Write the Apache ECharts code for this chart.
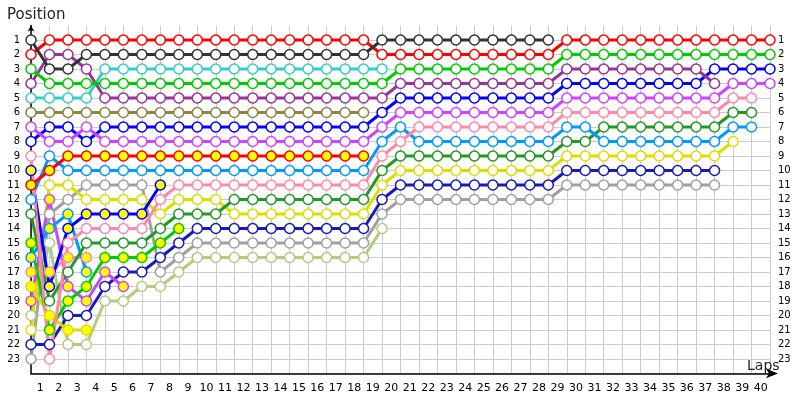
<!DOCTYPE html>
<html><head><meta charset="utf-8">
<script src="https://cdn.jsdelivr.net/npm/echarts@6/dist/echarts.min.js"></script>
<style>html,body{margin:0;padding:0;background:#fff}#c{width:800px;height:400px}</style>
</head><body><div id="c"></div>
<script>
// Lap labels (between grid lines) and position ticks
const lapLabels = ['1','2','3','4','5','6','7','8','9','10','11','12','13','14','15','16','17','18','19','20','21','22','23','24','25','26','27','28','29','30','31','32','33','34','35','36','37','38','39','40'];
const positionTicks = [1,2,3,4,5,6,7,8,9,10,11,12,13,14,15,16,17,18,19,20,21,22,23];

// Position per lap (index 0 = grid), series end when the car stops
const dark      = [1,3,3,2,2,2,2,2,2,2,2,2,2,2,2,2,2,2,2,1,1,1,1,1,1,1,1,1,1];
const red       = [2,1,1,1,1,1,1,1,1,1,1,1,1,1,1,1,1,1,1,2,2,2,2,2,2,2,2,2,2,1,1,1,1,1,1,1,1,1,1,1,1];
const green     = [3,4,4,4,4,4,4,4,4,4,4,4,4,4,4,4,4,4,4,4,3,3,3,3,3,3,3,3,3,2,2,2,2,2,2,2,2,2,2,2,2];
const purple    = [4,2,2,3,5,5,5,5,5,5,5,5,5,5,5,5,5,5,5,5,4,4,4,4,4,4,4,4,4,3,3,3,3,3,3,3,3,4];
const cyan      = [5,5,5,5,3,3,3,3,3,3,3,3,3,3,3,3,3,3,3,3];
const olive     = [6,6,6,6,6,6,6,6,6,6,6,6,6,6,6,6,6,6,6];
const violet    = [7,8,8,7,8,8,8,8,8,8,8,8,8,8,8,8,8,8,8,7,6,6,6,6,6,6,6,6,6,5,5,5,5,5,5,5,5,5,4,4,4];
const blue      = [8,7,7,8,7,7,7,7,7,7,7,7,7,7,7,7,7,7,7,6,5,5,5,5,5,5,5,5,5,4,4,4,4,4,4,4,4,3,3,3,3];
const pink      = [9,23,15,14,14,14,14,12,11,11,11,11,11,11,11,11,11,11,11,9,8,7,7,7,7,7,7,7,7,6,6,6,6,6,6,6,6,6,5,5];
const blueY     = [10,18,14,13,13,13,13,11];
const redY      = [11,10,9,9,9,9,9,9,9,9,9,9,9,9,9,9,9,9,9];
const lightblue = [12,9,10,10,10,10,10,10,10,10,10,10,10,10,10,10,10,10,10,8,7,8,8,8,8,8,8,8,8,7,7,8,8,8,8,8,8,8,7,7];
const fgreen    = [13,19,17,15,15,15,15,14,13,13,13,12,12,12,12,12,12,12,12,10,9,9,9,9,9,9,9,9,9,8,8,7,7,7,7,7,7,7,6,6];
const greenY    = [15,21,19,18,16,16,16,15,14];
const lightblueY= [16,14,13,17];
const pinkY     = [17,17,16,16];
const yellowY   = [18,20,21,21];
const violetY   = [19,12,18,19,17,18];
const lightgreen= [20,15,22,22,19,19,18,18,17,16,16,16,16,16,16,16,16,16,16,14];
const yellow    = [21,11,11,12,12,12,12,13,12,12,12,13,13,13,13,13,13,13,13,11,10,10,10,10,10,10,10,10,10,9,9,9,9,9,9,9,9,9,8];
const dkblue    = [22,22,20,20,18,17,17,16,15,14,14,14,14,14,14,14,14,14,14,12,11,11,11,11,11,11,11,11,11,10,10,10,10,10,10,10,10,10];
const gray      = [23,13,12,11,11,11,11,17,16,15,15,15,15,15,15,15,15,15,15,13,12,12,12,12,12,12,12,12,12,11,11,11,11,11,11,11,11,11];

const drivers = [
  {d: gray, c:'#a0a0a0', f:'#ffffff'},
  {d: lightgreen, c:'#b0cc80', f:'#ffffff'},
  {d: dkblue, c:'#1a1abb', f:'#ffffff'},
  {d: yellow, c:'#dddd00', f:'#ffffff'},
  {d: violetY, c:'#cc44ff', f:'#ffff00'},
  {d: yellowY, c:'#dddd00', f:'#ffff00'},
  {d: pinkY, c:'#ff88aa', f:'#ffff00'},
  {d: lightblueY, c:'#0099ff', f:'#ffff00'},
  {d: greenY, c:'#00cc00', f:'#ffff00'},
  {d: fgreen, c:'#229922', f:'#ffffff'},
  {d: lightblue, c:'#0099ff', f:'#ffffff'},
  {d: redY, c:'#ff0000', f:'#ffff00'},
  {d: blueY, c:'#0000ff', f:'#ffff00'},
  {d: pink, c:'#ff88aa', f:'#ffffff'},
  {d: blue, c:'#0000ff', f:'#ffffff'},
  {d: violet, c:'#cc44ff', f:'#ffffff'},
  {d: olive, c:'#888844', f:'#ffffff'},
  {d: cyan, c:'#33cccc', f:'#ffffff'},
  {d: purple, c:'#993399', f:'#ffffff'},
  {d: green, c:'#00cc00', f:'#ffffff'},
  {d: red, c:'#ff0000', f:'#ffffff'},
  {d: dark, c:'#333333', f:'#ffffff'}
];

const series = drivers.map(function (s) {
  return {
    type: 'line', xAxisIndex: 0, yAxisIndex: 0,
    data: s.d.map(function (v, i) { return [i, v]; }),
    symbol: 'circle', symbolSize: 10, showAllSymbol: true,
    lineStyle: {color: s.c, width: 3},
    itemStyle: {color: s.f, borderColor: s.c, borderWidth: 1.5},
    emphasis: {disabled: true}, silent: true, animation: false
  };
});

const chart = echarts.init(document.getElementById('c'), null, {renderer: 'canvas'});
const yLabel = function (v) { return positionTicks.indexOf(v) >= 0 ? String(v) : ''; };
chart.setOption({
  backgroundColor: '#ffffff',
  animation: false,
  title: [
    {text: 'Position', left: 2, top: 3, textStyle: {fontFamily: 'DejaVu Sans', fontSize: 15, fontWeight: 'normal', color: '#222'}},
    {text: 'Laps', left: 742, top: 354, textStyle: {fontFamily: 'DejaVu Sans', fontSize: 14, fontWeight: 'normal', color: '#222'}}
  ],
  grid: {left: 31, right: 30, top: 25.5, bottom: 26.5, containLabel: false},
  xAxis: [
    {type: 'value', min: 0, max: 40, interval: 1, position: 'bottom',
     axisLine: {show: true, onZero: false, symbol: ['none', 'arrow'], symbolSize: [7, 12], symbolOffset: [0, 8], lineStyle: {color: '#000', width: 1.5}},
     axisTick: {show: false}, axisLabel: {show: false},
     splitLine: {show: true, lineStyle: {color: '#cccccc', width: 1}}},
    {type: 'category', data: lapLabels, position: 'bottom', boundaryGap: true,
     axisLine: {show: false}, axisTick: {show: false}, splitLine: {show: false},
     axisLabel: {color: '#000', fontFamily: 'DejaVu Sans', fontSize: 11, margin: 9, interval: 0}}
  ],
  yAxis: [
    {type: 'value', inverse: true, min: 0, max: 24, interval: 1, position: 'left',
     axisLine: {show: true, onZero: false, symbol: ['none', 'arrow'], symbolSize: [5, 6], lineStyle: {color: '#000', width: 1.5}},
     axisTick: {show: false},
     axisLabel: {formatter: yLabel, color: '#000', fontFamily: 'DejaVu Sans', fontSize: 10, margin: 11},
     splitLine: {show: true, showMinLine: false, lineStyle: {color: '#cccccc', width: 1}}},
    {type: 'value', inverse: true, min: 0, max: 24, interval: 1, position: 'right',
     axisLine: {show: false}, axisTick: {show: false},
     axisLabel: {formatter: yLabel, color: '#000', fontFamily: 'DejaVu Sans', fontSize: 10, margin: 8},
     splitLine: {show: false}}
  ],
  series: series
});
</script>
</body></html>
